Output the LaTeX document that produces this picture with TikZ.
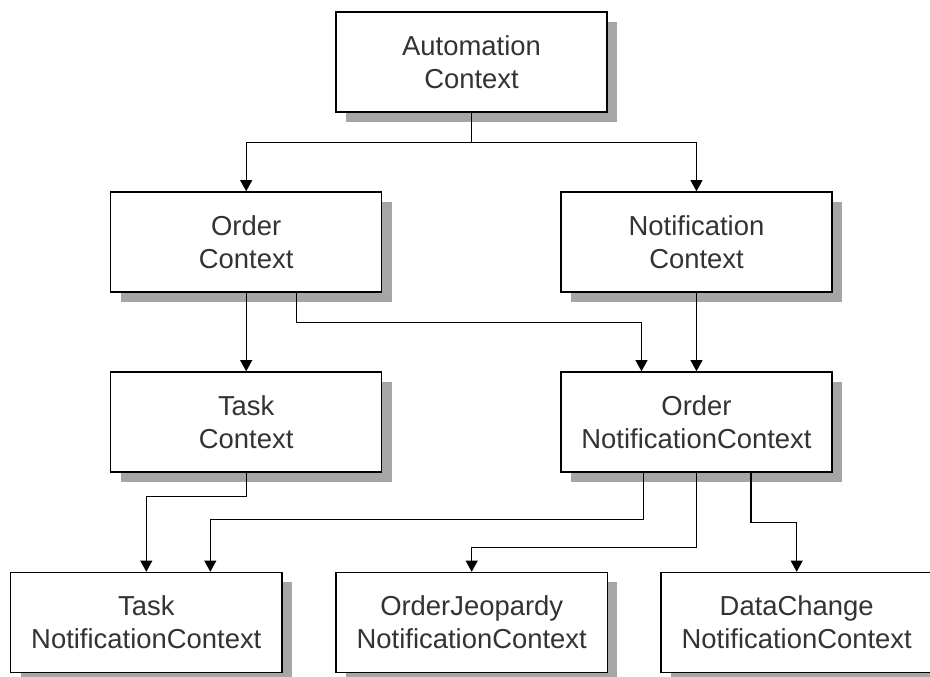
\documentclass[tikz,border=0pt]{standalone}
\usepackage{fontspec}
\setmainfont{Liberation Sans}
\usetikzlibrary{arrows.meta,shadows,calc}

\begin{document}
\begin{tikzpicture}[x=0.025cm, y=-0.025cm,
	ctx/.style={draw, line width=1pt, fill=white, minimum width=6.775cm, minimum height=2.5cm,
		inner sep=0pt, align=center, text=black!80, font=\fontsize{19.5}{23.7}\selectfont,
		drop shadow={shadow xshift=0.25cm, shadow yshift=-0.25cm, fill=black!35, opacity=1}},
	link/.style={line width=0.9pt, -{Triangle[length=2.8mm, width=3mm]}}]
	\clip (0,0) rectangle (930,677);
	\foreach \name/\x/\y/\txt in {auto/471.5/62/{Automation\\Context},
		ordctx/246.2/242/{Order\\Context}, notctx/696.5/242/{Notification\\Context},
		taskctx/246.2/422/{Task\\Context}, ordnote/696.5/422/{Order\\NotificationContext},
		tasknote/146.3/622.5/{Task\\NotificationContext},
		jeopnote/471.7/622.5/{OrderJeopardy\\NotificationContext},
		datanote/796.7/622.5/{DataChange\\NotificationContext}}{
		\node[ctx] (\name) at (\x, \y) {\txt};}
	% connectors
	\draw[link] (auto.south) -- ++(0,30) -| (ordctx.north);
	\draw[link] (auto.south) -- ++(0,30) -| (notctx.north);
	\draw[link] (ordctx.south) -- (taskctx.north);
	\draw[link] ($(ordctx.south)+(50,0)$) -- ++(0,30) -| ($(ordnote.north)+(-55,0)$);
	\draw[link] (notctx.south) -- (ordnote.north);
	\draw[link] (taskctx.south) -- ++(0,24) -| (tasknote.north);
	\draw[link] ($(ordnote.south)+(-53,0)$) -- ++(0,47) -| ($(tasknote.north)+(64,0)$);
	\draw[link] (ordnote.south) -- ++(0,75) -| (jeopnote.north);
	\draw[link] ($(ordnote.south)+(54.5,0)$) -- ++(0,50) -| (datanote.north);
\end{tikzpicture}
\end{document}
